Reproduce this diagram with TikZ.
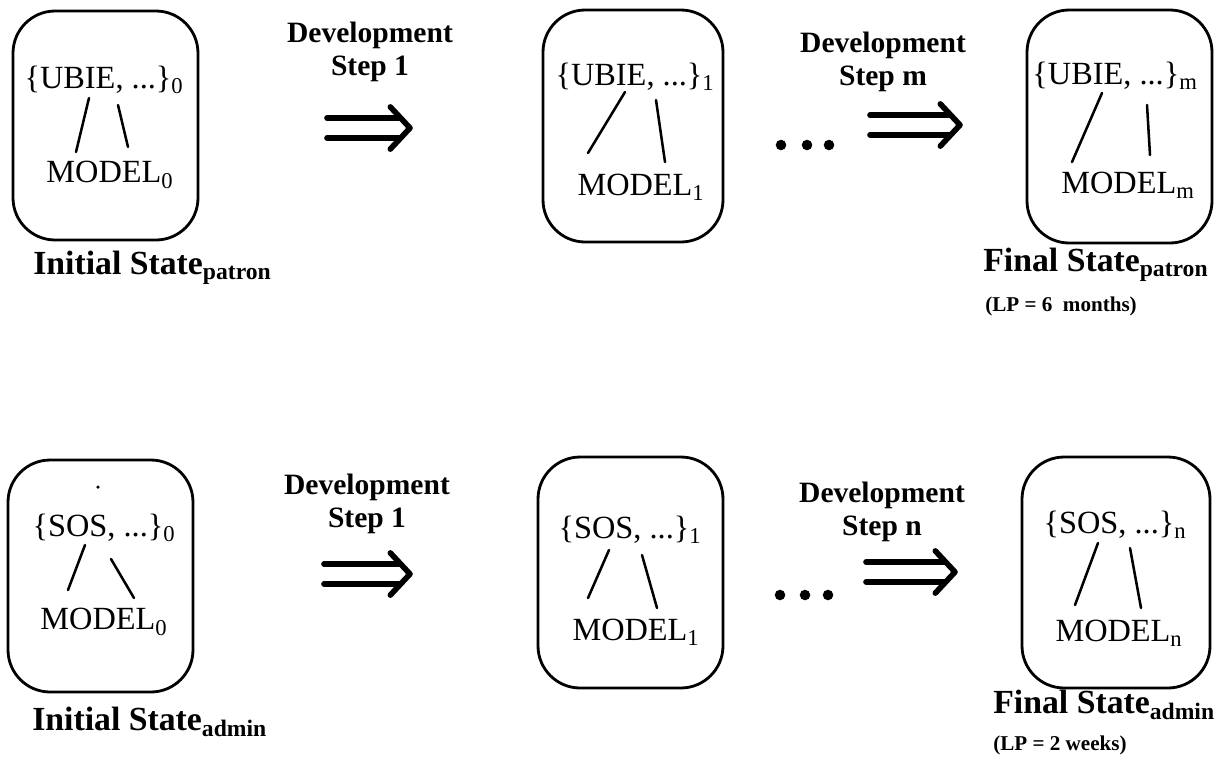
\documentclass[tikz,border=0pt]{standalone}
\usepackage{fontspec}
\setmainfont{Liberation Serif}
\usepackage{tikz}
\usetikzlibrary{fit, calc, positioning}
\tikzset{statebox/.style = {draw,line width=2pt,rounded corners=30pt,inner sep=0pt},
	settext/.style = {font=\fontsize{23}{27}\selectfont,inner sep=0pt},
	steplabel/.style = {font=\bfseries\fontsize{21}{24}\selectfont,align=center,inner sep=0pt},
	statelabel/.style = {font=\bfseries\fontsize{24}{28}\selectfont,anchor=west,inner sep=0pt},
	lplabel/.style = {font=\bfseries\fontsize{15}{18}\selectfont,anchor=west,inner sep=0pt},
	treeline/.style = {line width=1.8pt,line cap=round},
	devarrow/.style = {line width=4pt,line cap=round,line join=round},
	dotnode/.style = {circle,fill,inner sep=0pt,minimum size=7.5pt}}
\NewDocumentCommand{\stepArrow}{m m}{%
	\draw[devarrow] ([yshift=7pt]#1) -- ([xshift=-7pt,yshift=7pt]#2);
	\draw[devarrow] ([yshift=-7pt]#1) -- ([xshift=-7pt,yshift=-7pt]#2);
	\draw[devarrow] ([xshift=-14pt,yshift=15pt]#2) -- (#2) -- ([xshift=-14pt,yshift=-15pt]#2);
}
\begin{document}
\begin{tikzpicture}[x=0.025cm,y=-0.025cm]
\useasboundingbox (0,0) rectangle (1215,771);
% patron row
\node[statebox, fit={(13,11) (198,240)}] (pbox0) {};
\node[statebox, fit={(543,10) (723,242)}] (pbox1) {};
\node[statebox, fit={(1027,10) (1212,243)}] (pboxm) {};
\node[settext] (pset0) at (104,80) {\{UBIE, ...\}\textsubscript{0}};
\node[settext] (pmod0) at (110,175) {MODEL\textsubscript{0}};
\node[settext] (pset1) at (635,77) {\{UBIE, ...\}\textsubscript{1}};
\node[settext] (pmod1) at (641,187) {MODEL\textsubscript{1}};
\node[settext] (psetm) at (1115,76) {\{UBIE, ...\}\textsubscript{m}};
\node[settext] (pmodm) at (1128,185) {MODEL\textsubscript{m}};
\draw[treeline] ($(pset0)+(-15,18)$) -- ($(pmod0)+(-34,-23)$);
\draw[treeline] ($(pset0)+(14,25)$) -- ($(pmod0)+(18,-28)$);
\draw[treeline] ($(pset1)+(-10,15)$) -- ($(pmod1)+(-53,-34)$);
\draw[treeline] ($(pset1)+(21,23)$) -- ($(pmod1)+(24,-25)$);
\draw[treeline] ($(psetm)+(-13,17)$) -- ($(pmodm)+(-56,-23)$);
\draw[treeline] ($(psetm)+(32,29)$) -- ($(pmodm)+(22,-30)$);
\node[steplabel] (pstep1) at (370,52) {Development\\Step 1};
\node[steplabel] (pstepm) at (883,62) {Development\\Step m};
\coordinate (parr1s) at (327,128);
\coordinate (parr1e) at (410,128);
\coordinate (parrms) at (870,125);
\coordinate (parrme) at (960,125);
\stepArrow{parr1s}{parr1e}
\stepArrow{parrms}{parrme}
\node[dotnode] (pdot1) at (781,145) {};
\node[dotnode] (pdot2) at (807,145) {};
\node[dotnode] (pdot3) at (829,145) {};
\node[statelabel] (pinit) at (33,268) {Initial State\textsubscript{patron}};
\node[statelabel] (pfinal) at (983,265) {Final State\textsubscript{patron}};
\node[lplabel] (plp) at (985,306) {(LP = 6 \ months)};
% admin row
\node[statebox, fit={(8,460) (193,692)}] (abox0) {};
\node[statebox, fit={(538,457) (723,688)}] (abox1) {};
\node[statebox, fit={(1022,457) (1210,688)}] (aboxn) {};
\node[circle,fill,inner sep=0pt,minimum size=2.5pt] (astray) at (98,487) {};
\node[settext] (aset0) at (104,528) {\{SOS, ...\}\textsubscript{0}};
\node[settext] (amod0) at (104,622) {MODEL\textsubscript{0}};
\node[settext] (aset1) at (630,530) {\{SOS, ...\}\textsubscript{1}};
\node[settext] (amod1) at (636,632) {MODEL\textsubscript{1}};
\node[settext] (asetn) at (1115,525) {\{SOS, ...\}\textsubscript{n}};
\node[settext] (amodn) at (1119,633) {MODEL\textsubscript{n}};
\draw[treeline] ($(aset0)+(-19,17)$) -- ($(amod0)+(-36,-32)$);
\draw[treeline] ($(aset0)+(7,31)$) -- ($(amod0)+(30,-24)$);
\draw[treeline] ($(aset1)+(-21,20)$) -- ($(amod1)+(-48,-34)$);
\draw[treeline] ($(aset1)+(12,25)$) -- ($(amod1)+(21,-24)$);
\draw[treeline] ($(asetn)+(-17,18)$) -- ($(amodn)+(-44,-28)$);
\draw[treeline] ($(asetn)+(15,23)$) -- ($(amodn)+(22,-25)$);
\node[steplabel] (astep1) at (367,504) {Development\\Step 1};
\node[steplabel] (astepn) at (882,512) {Development\\Step n};
\coordinate (aarr1s) at (324,574);
\coordinate (aarr1e) at (410,574);
\coordinate (aarrns) at (866,572);
\coordinate (aarrne) at (955,572);
\stepArrow{aarr1s}{aarr1e}
\stepArrow{aarrns}{aarrne}
\node[dotnode] (adot1) at (780,595) {};
\node[dotnode] (adot2) at (805,595) {};
\node[dotnode] (adot3) at (828,595) {};
\node[statelabel] (ainit) at (32,722) {Initial State\textsubscript{admin}};
\node[statelabel] (afinal) at (993,705) {Final State\textsubscript{admin}};
\node[lplabel] (alp) at (993,745) {(LP = 2 weeks)};
\end{tikzpicture}
\end{document}
